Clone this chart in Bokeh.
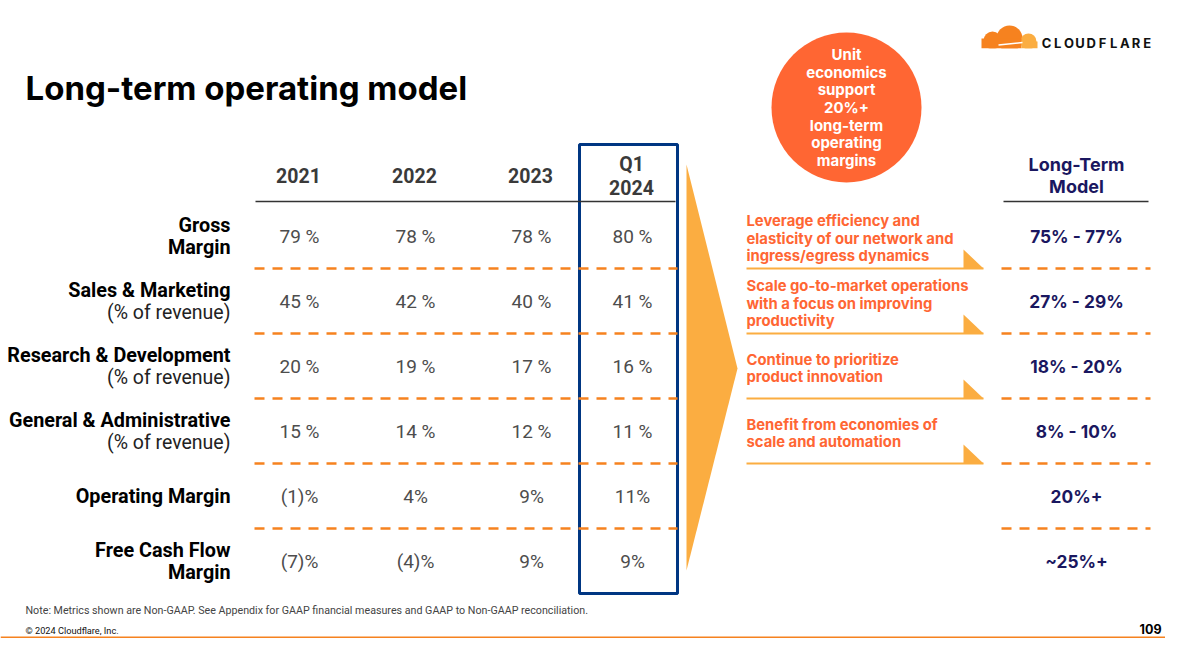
from bokeh.plotting import figure
from bokeh.models import Range1d
from bokeh.core.properties import value
from bokeh.embed import file_html
from bokeh.resources import INLINE

# ---------------- data ----------------
title = "Long-term operating model"
columns = ["2021", "2022", "2023", "Q1\n2024"]
metric_names = ["Gross\nMargin", "Sales & Marketing", "Research & Development",
                "General & Administrative", "Operating Margin", "Free Cash Flow\nMargin"]
metric_notes = ["", "(% of revenue)", "(% of revenue)", "(% of revenue)", "", ""]
values_2021 = ["79 %", "45 %", "20 %", "15 %", "(1)%", "(7)%"]
values_2022 = ["78 %", "42 %", "19 %", "14 %", "4%", "(4)%"]
values_2023 = ["78 %", "40 %", "17 %", "12 %", "9%", "9%"]
values_q1_2024 = ["80 %", "41 %", "16 %", "11 %", "11%", "9%"]
long_term_header = "Long-Term\nModel"
long_term_model = ["75% - 77%", "27% - 29%", "18% - 20%", "8% - 10%", "20%+", "~25%+"]
drivers = ["Leverage efficiency and\nelasticity of our network and\ningress/egress dynamics",
           "Scale go-to-market operations\nwith a focus on improving\nproductivity",
           "Continue to prioritize\nproduct innovation",
           "Benefit from economies of\nscale and automation"]
bubble_text = "Unit\neconomics\nsupport\n20%+\nlong-term\noperating\nmargins"
note_text = "Note: Metrics shown are Non-GAAP. See Appendix for GAAP financial measures and GAAP to Non-GAAP reconciliation."
copyright_text = "\u00a9 2024 Cloudflare, Inc."
page_number = "109"
brand = "CLOUDFLARE"

# ---------------- style ----------------
ORANGE = "#F6821F"
LIGHT_ORANGE = "#FBAD41"
RED_ORANGE = "#FF6633"
NAVY = "#1a1760"
BLUE = "#003682"

W, H = 1165, 638
p = figure(width=W, height=H, x_range=Range1d(0, W), y_range=Range1d(H, 0),
           output_backend="svg", toolbar_location=None, min_border=0,
           x_axis_location=None, y_axis_location=None)
p.xgrid.visible = False
p.ygrid.visible = False
p.outline_line_color = None
p.background_fill_color = "white"
p.border_fill_color = "white"


def txt(xs, ys, texts, size, color, font="Roboto", style="normal", align="left"):
    p.text(x=xs, y=ys, text=texts, text_font=value(font), text_font_size=f"{size}px",
           text_color=color, text_font_style=style, text_align=align, text_baseline="middle")


def block(x, yc, s, spacing, size, color, font, style, align):
    lines = s.split("\n")
    n = len(lines)
    ys = [yc + (j - (n - 1) / 2) * spacing for j in range(n)]
    txt([x] * n, ys, lines, size, color, font, style, align)


# layout
col_x = [298, 414, 530, 631]
row_y = [236 + 65 * i for i in range(6)]
header_y = 175
label_right = 230
lt_x = 1076
drv_x = 746

# title
txt([25], [87], [title], 33, "#000000", "Inter", "bold")

# chevron
p.patch([686, 737, 686], [164, 368, 570], fill_color=LIGHT_ORANGE, line_color=None)

# highlight box around Q1 2024
p.quad(left=[col_x[3] - 52], right=[col_x[3] + 46], top=[144], bottom=[593],
       fill_color=None, line_color=BLUE, line_width=3)

# headers
for cx, c in zip(col_x, columns):
    block(cx, header_y, c, 23, 19.5, "#3a3a3a", "Roboto", "bold", "center")
p.segment(x0=[255], y0=[201], x1=[675], y1=[201], line_color="#333333", line_width=1.5)

# row labels + values
all_vals = [values_2021, values_2022, values_2023, values_q1_2024]
for i, y in enumerate(row_y):
    main = metric_names[i].split("\n")
    lines = main + ([metric_notes[i]] if metric_notes[i] else [])
    n = len(lines)
    ys = [y + (j - (n - 1) / 2) * 22.5 for j in range(n)]
    txt([label_right] * len(main), ys[:len(main)], main, 19.8, "#000000", "Roboto", "bold", "right")
    if metric_notes[i]:
        txt([label_right], [ys[-1]], [metric_notes[i]], 19.5, "#222222", "Roboto", "normal", "right")
    for cx, vals in zip(col_x, all_vals):
        txt([cx + 1], [y], [vals[i]], 19, "#4d4d4d", "Roboto", "normal", "center")
    txt([lt_x], [y], [long_term_model[i]], 17.3, NAVY, "Inter", "bold", "center")

# dashed separators
sep_y = [y + 32 for y in row_y[:-1]]
n_sep = len(sep_y)
p.segment(x0=[254] * n_sep, y0=sep_y, x1=[677] * n_sep, y1=sep_y,
          line_color=ORANGE, line_width=2.5, line_dash="10 8")
p.segment(x0=[1001] * n_sep, y0=sep_y, x1=[1150] * n_sep, y1=sep_y,
          line_color=ORANGE, line_width=2.5, line_dash="10 8")

# long-term header
block(lt_x, 175, long_term_header, 22.5, 18, NAVY, "Inter", "bold", "center")
p.segment(x0=[1003], y0=[201], x1=[1148], y1=[201], line_color="#333333", line_width=1.5)

# drivers text with arrow underlines
for i, d in enumerate(drivers):
    block(drv_x, row_y[i] + 2, d, 17.6, 14.8, RED_ORANGE, "Inter", "bold", "left")
    uy = sep_y[i]
    p.segment(x0=[drv_x], y0=[uy], x1=[983], y1=[uy], line_color=LIGHT_ORANGE, line_width=2)
    p.patch([963, 963, 983], [uy - 19, uy, uy], fill_color=LIGHT_ORANGE, line_color=None)

# bubble
p.circle(x=[846], y=[107], radius=75, fill_color=RED_ORANGE, line_color=None)
block(846, 107, bubble_text, 17.7, 15, "white", "Inter", "bold", "center")

# cloud logo
p.circle(x=[992, 1009], y=[40, 38], radius=[9, 13], fill_color=ORANGE, line_color=None)
p.circle(x=[1028], y=[41], radius=[8], fill_color=LIGHT_ORANGE, line_color=None)
p.quad(left=[981], right=[1021], top=[38], bottom=[48], fill_color=ORANGE, line_color=None)
p.quad(left=[1021], right=[1037], top=[41], bottom=[48], fill_color=LIGHT_ORANGE, line_color=None)
p.quad(left=[975], right=[1040], top=[48], bottom=[58], fill_color="white", line_color=None)
p.segment(x0=[998], y0=[44.5], x1=[1022], y1=[42], line_color="white", line_width=1.5)
letters = list(brand)
lx = [1046 + 11.2 * k for k in range(len(letters))]
txt(lx, [42] * len(letters), letters, 13, "#111111", "Inter", "bold", "center")

# footer
txt([25], [610], [note_text], 10.7, "#444444", "Roboto", "normal")
txt([25], [630], [copyright_text], 9.2, "#111111", "Roboto", "normal")
txt([1161], [628], [page_number], 12.5, "#000000", "Inter", "bold", "right")
p.segment(x0=[0], y0=[637], x1=[W], y1=[637], line_color=ORANGE, line_width=2)

open("out.html", "w").write(file_html(p, INLINE))
